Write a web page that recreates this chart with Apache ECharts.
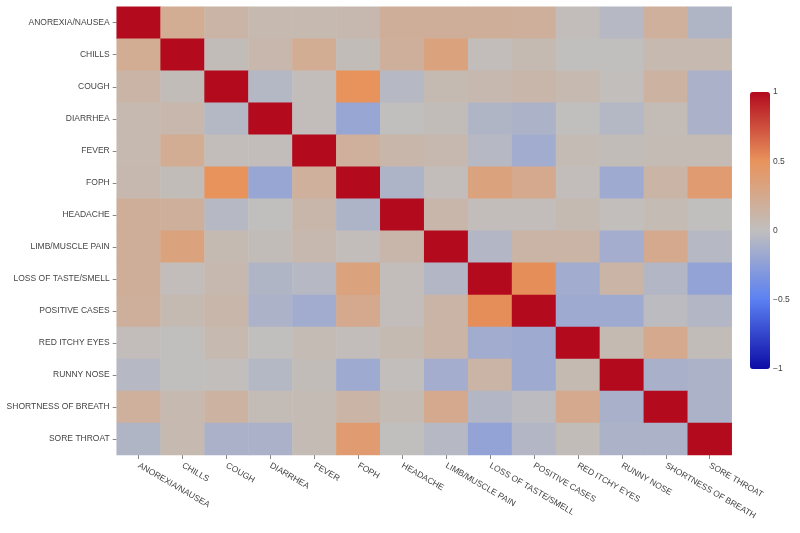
<!DOCTYPE html>
<html>
<head>
<meta charset="utf-8">
<script src="https://cdn.jsdelivr.net/npm/echarts@6/dist/echarts.min.js"></script>
<style>
  html, body { margin: 0; padding: 0; background: #fff; }
  #chart { width: 800px; height: 533px; }
</style>
</head>
<body>
<div id="chart"></div>
<script>
const symptoms = [
  'ANOREXIA/NAUSEA', 'CHILLS', 'COUGH', 'DIARRHEA', 'FEVER', 'FOPH', 'HEADACHE',
  'LIMB/MUSCLE PAIN', 'LOSS OF TASTE/SMELL', 'POSITIVE CASES', 'RED ITCHY EYES',
  'RUNNY NOSE', 'SHORTNESS OF BREATH', 'SORE THROAT'
];

// correlation matrix, rows in the same order as symptoms
const corr = [
  [1.00, 0.22, 0.12, 0.07, 0.07, 0.08, 0.19, 0.19, 0.19, 0.18, 0.02, -0.05, 0.17, -0.08],
  [0.22, 1.00, 0.03, 0.09, 0.22, 0.03, 0.18, 0.33, 0.02, 0.06, 0.00, 0.00, 0.07, 0.07],
  [0.12, 0.03, 1.00, -0.06, 0.02, 0.50, -0.05, 0.06, 0.08, 0.10, 0.07, 0.01, 0.15, -0.11],
  [0.07, 0.09, -0.06, 1.00, 0.02, -0.20, 0.00, 0.03, -0.08, -0.10, 0.00, -0.06, 0.04, -0.11],
  [0.07, 0.22, 0.02, 0.02, 1.00, 0.17, 0.10, 0.08, -0.05, -0.15, 0.05, 0.03, 0.05, 0.05],
  [0.08, 0.03, 0.50, -0.20, 0.17, 1.00, -0.09, 0.02, 0.33, 0.25, 0.02, -0.17, 0.12, 0.40],
  [0.19, 0.18, -0.05, 0.00, 0.10, -0.09, 1.00, 0.10, 0.02, 0.02, 0.06, 0.01, 0.05, 0.00],
  [0.19, 0.33, 0.06, 0.03, 0.08, 0.02, 0.10, 1.00, -0.07, 0.12, 0.12, -0.14, 0.25, -0.05],
  [0.19, 0.02, 0.08, -0.08, -0.05, 0.33, 0.02, -0.07, 1.00, 0.52, -0.15, 0.12, -0.07, -0.22],
  [0.18, 0.06, 0.10, -0.10, -0.15, 0.25, 0.02, 0.12, 0.52, 1.00, -0.17, -0.17, -0.02, -0.07],
  [0.02, 0.00, 0.07, 0.00, 0.05, 0.02, 0.06, 0.12, -0.15, -0.17, 1.00, 0.06, 0.25, 0.03],
  [-0.05, 0.00, 0.01, -0.06, 0.03, -0.17, 0.01, -0.14, 0.12, -0.17, 0.06, 1.00, -0.12, -0.10],
  [0.17, 0.07, 0.15, 0.04, 0.05, 0.12, 0.05, 0.25, -0.07, -0.02, 0.25, -0.12, 1.00, -0.10],
  [-0.08, 0.07, -0.11, -0.11, 0.05, 0.40, 0.00, -0.05, -0.22, -0.07, 0.03, -0.10, -0.10, 1.00]
];

const scaleTicks = [-1, -0.5, 0, 0.5, 1];
const palette = ['#0c0ca6', '#5b80f2', '#c0bfbe', '#e8935c', '#b30a1e'];

const cells = [];
corr.forEach((row, y) => {
  row.forEach((v, x) => cells.push([x, y, v]));
});

const chart = echarts.init(document.getElementById('chart'));
const labelFont = { fontFamily: 'Liberation Sans, Arial, sans-serif', fontSize: 8.5, color: '#444' };

chart.setOption({
  backgroundColor: '#fff',
  animation: false,
  grid: [
    { left: 116.7, top: 6.7, right: 68.3, bottom: 78 },
    // labels for the colour bar
    { left: 750, top: 92, width: 20, height: 277, show: false }
  ],
  xAxis: [
    {
      type: 'category',
      data: symptoms,
      gridIndex: 0,
      axisLine: { show: false },
      axisTick: { show: true, alignWithLabel: true, length: 4, lineStyle: { color: '#888' } },
      axisLabel: Object.assign({ rotate: -30, margin: 10, interval: 0 }, labelFont),
      splitLine: { show: false }
    },
    { type: 'value', gridIndex: 1, show: false, min: 0, max: 1 }
  ],
  yAxis: [
    {
      type: 'category',
      data: symptoms,
      inverse: true,
      gridIndex: 0,
      axisLine: { show: false },
      axisTick: { show: true, alignWithLabel: true, length: 4, lineStyle: { color: '#888' } },
      axisLabel: Object.assign({ margin: 7, interval: 0 }, labelFont),
      splitLine: { show: false }
    },
    {
      type: 'value',
      gridIndex: 1,
      position: 'right',
      min: scaleTicks[0],
      max: scaleTicks[scaleTicks.length - 1],
      interval: 0.5,
      axisLine: { show: false },
      axisTick: { show: false },
      splitLine: { show: false },
      axisLabel: Object.assign({
        margin: 3,
        formatter: v => String(v).replace('-', '\u2212')
      }, labelFont)
    }
  ],
  visualMap: {
    type: 'continuous',
    min: -1,
    max: 1,
    seriesIndex: 0,
    calculable: false,
    orient: 'vertical',
    left: 750,
    top: 92,
    padding: 0,
    itemWidth: 20,
    itemHeight: 277,
    text: ['', ''],
    showLabel: false,
    inRange: { color: palette }
  },
  series: [
    {
      type: 'heatmap',
      xAxisIndex: 0,
      yAxisIndex: 0,
      data: cells,
      itemStyle: { borderWidth: 0 },
      emphasis: { disabled: true }
    }
  ]
});
</script>
</body>
</html>
